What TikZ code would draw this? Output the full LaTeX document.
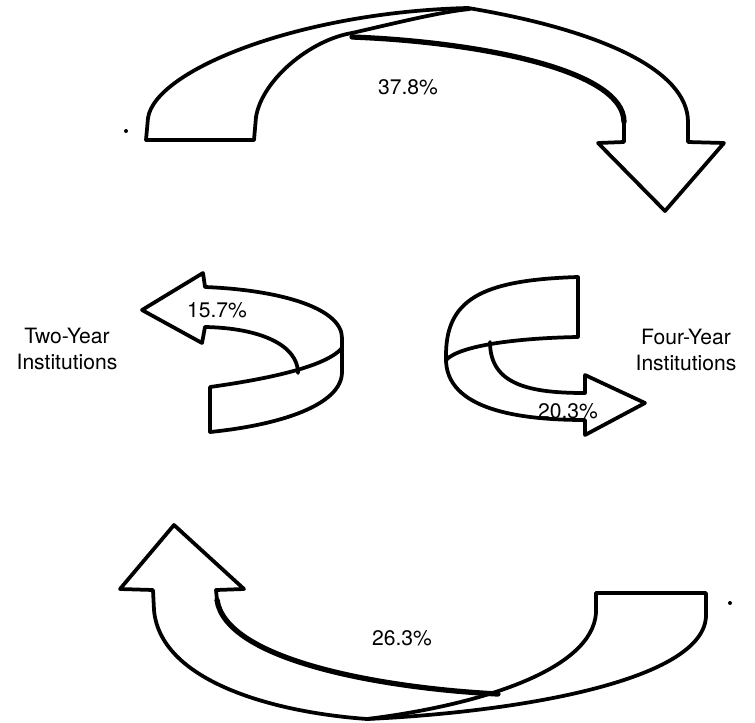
\documentclass[tikz,border=0pt]{standalone}
\usepackage{fontspec}
\setmainfont{TeX Gyre Heros}
\begin{document}
\begin{tikzpicture}[x=0.03cm,y=-0.03cm,line join=round,line cap=round,
  band/.style={line width=3.2pt},
  fold/.style={line width=4.5pt},
  pct/.style={font=\fontsize{18}{20}\selectfont},
  inst/.style={font=\fontsize{18}{22}\selectfont,align=center}]
\useasboundingbox (0,0) rectangle (755,722);

% top arrow
\draw[band] (254,140) -- (146,140) -- (148,118) .. controls (155,70) and (300,12) .. (468,8)
  .. controls (600,30) and (688,70) .. (688,122) -- (688,142) -- (724,143) -- (665,211)
  -- (598,143) -- (624,142) -- (624,122);
\draw[fold] (624,122) .. controls (624,70) and (480,42) .. (352,37);
\draw[band] (254,140) -- (256,117) .. controls (262,80) and (310,40) .. (352,33)
  .. controls (400,22) and (440,12) .. (470,9);
\fill (126,131) circle (2);

% left arrow
\draw[band] (205,327) -- (202,343) -- (142,310) -- (203,273) -- (205,287)
  .. controls (280,290) and (342,308) .. (342,338) -- (342,372)
  .. controls (342,405) and (280,425) .. (210,432) -- (210,387)
  .. controls (260,380) and (325,368) .. (342,348);
\draw[band] (205,327) .. controls (260,328) and (298,345) .. (298,373);

% right arrow
\draw[band] (578,337) -- (578,277) .. controls (480,280) and (445,300) .. (446,358)
  .. controls (445,410) and (520,420) .. (585,420) -- (585,435) -- (645,403)
  -- (585,375) -- (585,393) .. controls (530,393) and (490,385) .. (490,342);
\draw[band] (578,337) .. controls (520,338) and (460,345) .. (446,360);

% bottom arrow
\draw[band] (596,593) -- (706,593) -- (706,615) .. controls (706,680) and (520,712) .. (367,719)
  .. controls (270,712) and (160,680) .. (154,610) -- (153,590) -- (120,589) -- (174,525)
  -- (244,589) -- (216,590) -- (217,600);
\draw[fold] (217,600) .. controls (226,660) and (380,688) .. (498,694);
\draw[band] (596,593) -- (596,613) .. controls (592,670) and (480,705) .. (367,719);
\fill (730,603) circle (2);

\node[pct] (toppct) at (408,87) {37.8\%};
\node[pct] (botpct) at (402,638) {26.3\%};
\node[pct] (leftpct) at (217,310) {15.7\%};
\node[pct] (rightpct) at (568,411) {20.3\%};
\node[inst] (two) at (67,349) {Two-Year\\Institutions};
\node[inst] (four) at (686,350) {Four-Year\\Institutions};
\end{tikzpicture}
\end{document}
